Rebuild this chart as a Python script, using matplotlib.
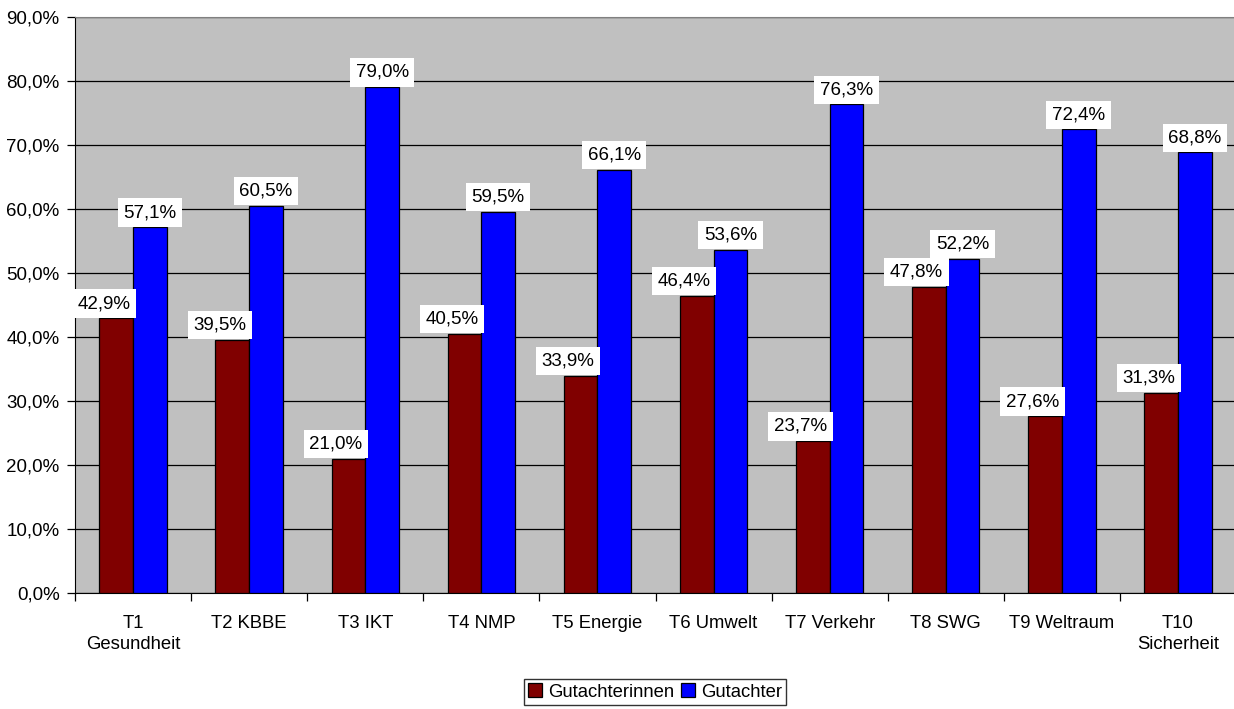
import numpy as np
import matplotlib.pyplot as plt
from matplotlib.ticker import FuncFormatter, MultipleLocator

plt.rcParams['font.family'] = ['Liberation Sans', 'DejaVu Sans']

categories = ['T1\nGesundheit', 'T2 KBBE', 'T3 IKT', 'T4 NMP', 'T5 Energie',
              'T6 Umwelt', 'T7 Verkehr', 'T8 SWG', 'T9 Weltraum', 'T10\nSicherheit']
gutachterinnen = [42.9, 39.5, 21.0, 40.5, 33.9, 46.4, 23.7, 47.8, 27.6, 31.3]
gutachter = [57.1, 60.5, 79.0, 59.5, 66.1, 53.6, 76.3, 52.2, 72.4, 68.8]

def pct(v):
    return f'{v:.1f}%'.replace('.', ',')

fig = plt.figure(figsize=(12.34, 7.09), dpi=100)
ax = fig.add_axes([75/1234, 1-593/709, 1161/1234, (593-16.7)/709])
ax.set_facecolor('#C0C0C0')

x = np.arange(len(categories))
w = 0.29
b1 = ax.bar(x - w/2, gutachterinnen, w, color='#800000', edgecolor='black', linewidth=0.9,
            label='Gutachterinnen', zorder=3)
b2 = ax.bar(x + w/2, gutachter, w, color='#0000FF', edgecolor='black', linewidth=0.9,
            label='Gutachter', zorder=3)

# white label boxes sitting right on top of each bar
box = dict(boxstyle='square,pad=0.3', facecolor='white', edgecolor='none')
for xi, v in zip(x, gutachterinnen):
    ax.annotate(pct(v), (xi - w/2, v), xytext=(-9, 4.5), textcoords='offset points',
                ha='center', va='bottom', fontsize=13.5, bbox=box, zorder=4)
for xi, v in zip(x, gutachter):
    ax.annotate(pct(v), (xi + w/2, v), xytext=(0, 4.5), textcoords='offset points',
                ha='center', va='bottom', fontsize=13.5, bbox=box, zorder=4)

ax.set_xlim(-0.5, len(categories) - 0.5)
ax.set_ylim(0, 90)
ax.yaxis.set_major_locator(MultipleLocator(10))
ax.yaxis.set_major_formatter(FuncFormatter(lambda v, p: pct(v)))
ax.grid(axis='y', color='black', linewidth=0.9, zorder=1)
ax.set_axisbelow(True)

ax.set_xticks(x)
ax.set_xticklabels(categories, fontsize=13.3, linespacing=1.3)
ax.set_xticks(np.arange(len(categories) + 1) - 0.5, minor=True)
ax.tick_params(axis='x', which='major', length=0, pad=16)
ax.tick_params(axis='x', which='minor', length=6, width=0.9, direction='out')
ax.tick_params(axis='y', length=6, width=0.9, labelsize=13.5, pad=5)

for s in ['top', 'right']:
    ax.spines[s].set_color('#808080')
for s in ['left', 'bottom']:
    ax.spines[s].set_color('black')

fig.legend(handles=[b1, b2], loc='center', bbox_to_anchor=(655/1234, 1-692/709),
           ncol=2, fontsize=13.3, frameon=True, fancybox=False, edgecolor='black',
           handlelength=0.75, handleheight=0.75, handletextpad=0.3, columnspacing=0.4,
           borderpad=0.25, borderaxespad=0)

fig.savefig('out.png', dpi=100)
